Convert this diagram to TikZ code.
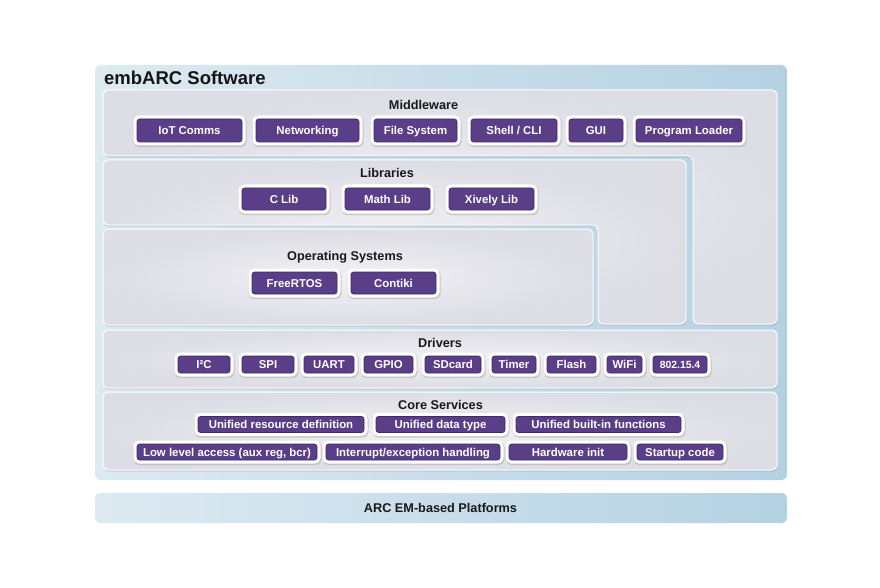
\documentclass[tikz,border=0pt]{standalone}
\usepackage{fontspec}
\setmainfont{Liberation Sans}
\definecolor{embpurple}{HTML}{5A3E88}
\definecolor{embpurpleD}{HTML}{3E2A66}
\definecolor{frameL}{HTML}{DDEAF2}
\definecolor{frameR}{HTML}{B4D1E2}
\definecolor{pnlIn}{HTML}{F1F1F5}
\definecolor{pnlOut}{HTML}{DDDDE5}
\definecolor{pshadow}{HTML}{98AFC1}
\begin{document}
\begin{tikzpicture}[x=1pt,y=-1pt,
  frame/.style={rounded corners=6pt, left color=frameL, right color=frameR},
  panel/.style={rounded corners=5pt, inner color=pnlIn, outer color=pnlOut,
    draw=white, line width=1pt,
    preaction={fill=pshadow, opacity=0.8, transform canvas={xshift=0.6pt,yshift=-1.4pt}}},
  pbox/.style={rectangle, rounded corners=2.5pt, fill=embpurple, draw=embpurpleD, line width=0.6pt,
    inner sep=0pt, text=white, font=\fontsize{11.4}{13}\bfseries,
    text height=8.2pt, text depth=0pt,
    preaction={draw=black!35, opacity=0.5, line width=8pt, transform canvas={xshift=0.6pt,yshift=-1.2pt}},
    preaction={draw=white, line width=7pt}},
  ttl/.style={font=\fontsize{12.7}{14}\bfseries, text=black!90, inner sep=0pt}
]
\useasboundingbox (0,0) rectangle (880,588);
\fill[white] (0,0) rectangle (880,588);

% outer frame
\path[frame] (95,65) rectangle (787,480);
\node[anchor=west, font=\fontsize{18.5}{20}\bfseries, text=black!92, inner sep=0pt] (title) at (104,78) {embARC Software};

% panels
\path[panel] (103,90) -- (777,90) -- (777,324) -- (693,324) -- (693,156) -- (103,156) -- cycle;
\path[panel] (103,160) -- (686,160) -- (686,324) -- (598,324) -- (598,225) -- (103,225) -- cycle;
\path[panel] (103,229) rectangle (593,325);
\path[panel] (103,330) rectangle (777,388);
\path[panel] (103,392) rectangle (777,470);

% platform
\path[frame, rounded corners=5pt] (95,493) rectangle (787,523);
\node[ttl] (plat) at (440.5,508) {ARC EM-based Platforms};

% Middleware
\node[ttl] (mwt) at (423.5,105) {Middleware};
\node[pbox, minimum width=105pt, minimum height=23pt] (iot) at (189.5,130.5) {IoT Comms};
\node[pbox, minimum width=103pt, minimum height=23pt] (net) at (307.5,130.5) {Networking};
\node[pbox, minimum width=83pt, minimum height=23pt] (fs) at (415.5,130.5) {File System};
\node[pbox, minimum width=86pt, minimum height=23pt] (sh) at (514,130.5) {Shell / CLI};
\node[pbox, minimum width=54pt, minimum height=23pt] (gui) at (596,130.5) {GUI};
\node[pbox, minimum width=106pt, minimum height=23pt] (pl) at (689,130.5) {Program Loader};

% Libraries
\node[ttl] (libt) at (387,173) {Libraries};
\node[pbox, minimum width=84pt, minimum height=22pt] (clib) at (284,199) {C Lib};
\node[pbox, minimum width=85pt, minimum height=22pt] (mlib) at (387.5,199) {Math Lib};
\node[pbox, minimum width=85pt, minimum height=22pt] (xlib) at (491.5,199) {Xively Lib};

% Operating Systems
\node[ttl] (ost) at (345,257) {Operating Systems};
\node[pbox, minimum width=85pt, minimum height=22pt] (frt) at (294.5,283) {FreeRTOS};
\node[pbox, minimum width=85pt, minimum height=22pt] (con) at (393.5,283) {Contiki};

% Drivers
\node[ttl] (drt) at (440,343) {Drivers};
\node[pbox, minimum width=52pt, minimum height=17pt] (i2c) at (204,364.5) {I²C};
\node[pbox, minimum width=52pt, minimum height=17pt] (spi) at (268,364.5) {SPI};
\node[pbox, minimum width=50pt, minimum height=17pt] (uart) at (329,364.5) {UART};
\node[pbox, minimum width=49pt, minimum height=17pt] (gpio) at (388.5,364.5) {GPIO};
\node[pbox, minimum width=56pt, minimum height=17pt] (sd) at (453,364.5) {SDcard};
\node[pbox, minimum width=44pt, minimum height=17pt] (tim) at (514,364.5) {Timer};
\node[pbox, minimum width=49pt, minimum height=17pt] (fl) at (571.5,364.5) {Flash};
\node[pbox, minimum width=35pt, minimum height=17pt] (wifi) at (624.5,364.5) {WiFi};
\node[pbox, minimum width=54pt, minimum height=17pt, font=\fontsize{10.4}{12}\bfseries] (zb) at (680,364.5) {802.15.4};

% Core Services
\node[ttl] (cst) at (440.5,405) {Core Services};
\node[pbox, minimum width=166pt, minimum height=16pt] (urd) at (281,424.5) {Unified resource definition};
\node[pbox, minimum width=129pt, minimum height=16pt] (udt) at (440.5,424.5) {Unified data type};
\node[pbox, minimum width=165pt, minimum height=16pt] (ubf) at (598.5,424.5) {Unified built-in functions};
\node[pbox, minimum width=180pt, minimum height=16pt] (lla) at (227,452) {Low level access (aux reg, bcr)};
\node[pbox, minimum width=174pt, minimum height=16pt] (ieh) at (413,452) {Interrupt/exception handling};
\node[pbox, minimum width=118pt, minimum height=16pt] (hwi) at (568,452) {Hardware init};
\node[pbox, minimum width=86pt, minimum height=16pt] (suc) at (680,452) {Startup code};
\end{tikzpicture}
\end{document}
